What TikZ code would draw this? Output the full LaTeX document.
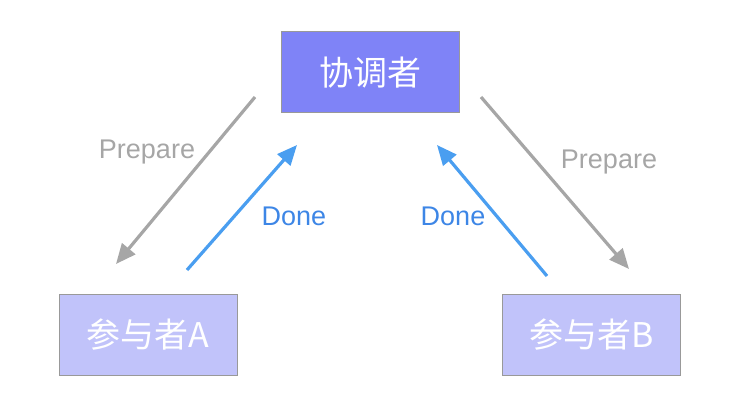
\documentclass[tikz,border=0pt]{standalone}
\usepackage{fontspec}
\setmainfont{Liberation Sans}
\newfontfamily\cjk{Noto Sans CJK SC}
\usepackage{tikz}
\usetikzlibrary{arrows.meta, positioning}
\definecolor{coord}{RGB}{127,131,247}
\definecolor{party}{RGB}{193,195,250}
\definecolor{edgegray}{RGB}{153,153,153}
\definecolor{prepgray}{RGB}{166,166,166}
\definecolor{doneblue}{RGB}{74,158,240}
\definecolor{donetext}{RGB}{61,134,230}

\tikzset{
    role/.style={draw=edgegray, line width=1pt, minimum width=178pt, minimum height=81pt,
        text=white, font=\cjk\fontsize{34}{40}\selectfont},
    prepline/.style={draw=prepgray, line width=3.2pt, -{Triangle[length=20pt,width=17pt]}},
    doneline/.style={draw=doneblue, line width=3.2pt, -{Triangle[length=20pt,width=17pt]}},
    lbl/.style={font=\fontsize{27}{32}\selectfont}
}

\begin{document}
\begin{tikzpicture}[x=1pt, y=-1pt]
    \useasboundingbox (0,0) rectangle (730,414);

    % participants
    \node[role, fill=coord] (coordinator) at (370,72.5) {协调者};
    \node[role, fill=party] (partyA) at (148,335) {参与者A};
    \node[role, fill=party] (partyB) at (591.5,335) {参与者B};

    % free arrow ends
    \coordinate (prepAfrom) at (255,97);
    \coordinate (prepAto) at (116,264);
    \coordinate (doneAfrom) at (187,270);
    \coordinate (doneAto) at (297,145);
    \coordinate (doneBfrom) at (547,276);
    \coordinate (doneBto) at (437,145);
    \coordinate (prepBfrom) at (481,97);
    \coordinate (prepBto) at (629,269);

    \draw[prepline] (prepAfrom) -- (prepAto);
    \draw[doneline] (doneAfrom) -- (doneAto);
    \draw[doneline] (doneBfrom) -- (doneBto);
    \draw[prepline] (prepBfrom) -- (prepBto);

    % labels
    \node[lbl, text=prepgray] (prepAlabel) at (147,152) {Prepare};
    \node[lbl, text=donetext] (doneAlabel) at (294,216) {Done};
    \node[lbl, text=donetext] (doneBlabel) at (453,216) {Done};
    \node[lbl, text=prepgray] (prepBlabel) at (609,162) {Prepare};
\end{tikzpicture}
\end{document}
